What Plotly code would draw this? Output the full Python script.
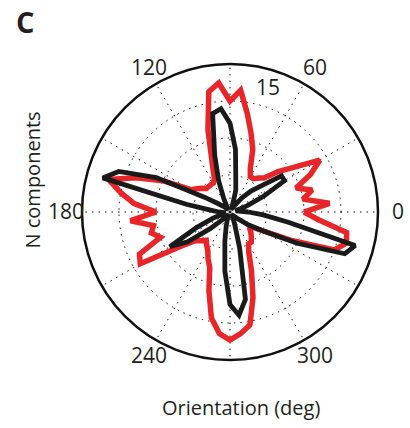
import math
import plotly.graph_objects as go

theta = list(range(0, 360, 5))

red_r = [10, 13.5, 10, 11.5, 9.5, 12, 14, 10.5, 8.5, 6.5, 6, 5.5,
         5.5, 6.5, 9, 11, 13.5, 16.5, 15, 17.5, 16.5, 11.5, 7, 5,
         4.5, 4.5, 4.5, 4.5, 5, 5.5, 6, 10, 13.5, 17, 15, 13,
         10, 13.5, 10.5, 11, 10, 13.5, 14, 8, 6, 5.5, 5, 5.5,
         6, 7, 8, 11, 14.5, 16.5, 17.3, 16.5, 15.5, 12, 8.5, 6,
         5, 5, 4.5, 4, 3.5, 3.5, 5, 9, 15, 16.3, 16, 12]

black_r = [2.5, 1.2, 0.8, 1, 2.5, 5, 8.5, 8.5, 5.5, 4, 2.5, 1,
           0.6, 0.6, 1, 3, 4.5, 8.5, 12, 14, 13.5, 8, 4.5, 2,
           0.8, 0.6, 0.6, 0.8, 1.2, 2, 4, 11, 16, 17.8, 6, 2.5,
           1.5, 0.8, 0.6, 1, 2.5, 5, 9.4, 7, 3.5, 1.5, 0.8, 0.6,
           0.6, 0.6, 1, 2, 4, 8, 12.5, 14, 12, 5, 2, 1,
           0.6, 0.6, 0.6, 0.8, 1.5, 3, 5, 10, 16.5, 17.5, 8, 4.5]

angle_labels = ["0", "60", "120", "180", "240", "300"]
angle_label_pos = [0, 60, 120, 180, 240, 300]
ring_vals = [5, 10, 15]
r_max = 20

W, H = 410, 428
font = "Open Sans, Noto Sans, sans-serif"
ink = "#231f20"

# polar geometry in page pixels
cx, cy, R = 230, 212, 148
lab_cx, lab_cy, lab_R = 232, 211, 166


def px(x):
    return x / W


def py(y):
    return 1 - y / H


fig = go.Figure()
fig.add_trace(go.Scatterpolar(
    r=red_r + red_r[:1], theta=theta + theta[:1], mode="lines",
    line=dict(color="#e8262a", width=5.5), showlegend=False, hoverinfo="skip"))
fig.add_trace(go.Scatterpolar(
    r=black_r + black_r[:1], theta=theta + theta[:1], mode="lines",
    line=dict(color="#1a1a1a", width=4.8), showlegend=False, hoverinfo="skip"))
fig.add_trace(go.Scatterpolar(
    r=[17.3], theta=[72.7], mode="text", text=["15"],
    textfont=dict(size=21, color=ink, family=font),
    cliponaxis=False, showlegend=False, hoverinfo="skip"))

annotations = []
for lab, ang in zip(angle_labels, angle_label_pos):
    a = math.radians(ang)
    annotations.append(dict(
        text=lab, x=px(lab_cx + lab_R * math.cos(a)), y=py(lab_cy - lab_R * math.sin(a)),
        xref="paper", yref="paper", xanchor="center", yanchor="middle",
        showarrow=False, font=dict(size=21, color=ink, family=font)))

annotations += [
    dict(text="<b>C</b>", x=px(24.5), y=py(21), xref="paper", yref="paper",
         xanchor="center", yanchor="middle",
         showarrow=False, font=dict(size=29, color=ink, family=font)),
    dict(text="N components", x=px(32.5), y=py(180), xref="paper", yref="paper",
         xanchor="center", yanchor="middle",
         showarrow=False, textangle=-90, font=dict(size=20, color=ink, family=font)),
    dict(text="Orientation (deg)", x=px(241), y=py(407), xref="paper", yref="paper",
         xanchor="center", yanchor="middle",
         showarrow=False, font=dict(size=20, color=ink, family=font)),
]

fig.update_layout(
    width=W, height=H,
    margin=dict(l=0, r=0, t=0, b=0),
    paper_bgcolor="white", plot_bgcolor="white",
    polar=dict(
        domain=dict(x=[px(cx - R), px(cx + R)], y=[py(cy + R), py(cy - R)]),
        bgcolor="white",
        radialaxis=dict(range=[0, r_max], tickvals=ring_vals, showticklabels=False,
                        ticks="", showline=False, showgrid=True,
                        gridcolor="#111", gridwidth=1.3, griddash="1.5px,5px"),
        angularaxis=dict(tickvals=list(range(0, 360, 30)), showticklabels=False,
                         ticks="", showline=True, linecolor="#111", linewidth=2.5,
                         showgrid=True, gridcolor="#111", gridwidth=1.3,
                         griddash="1.5px,5px", rotation=0, direction="counterclockwise"),
    ),
    annotations=annotations,
)

fig.write_html("out.html",
               config={"displayModeBar": False},
               post_script="document.body.style.margin='0';document.body.style.padding='0';")
